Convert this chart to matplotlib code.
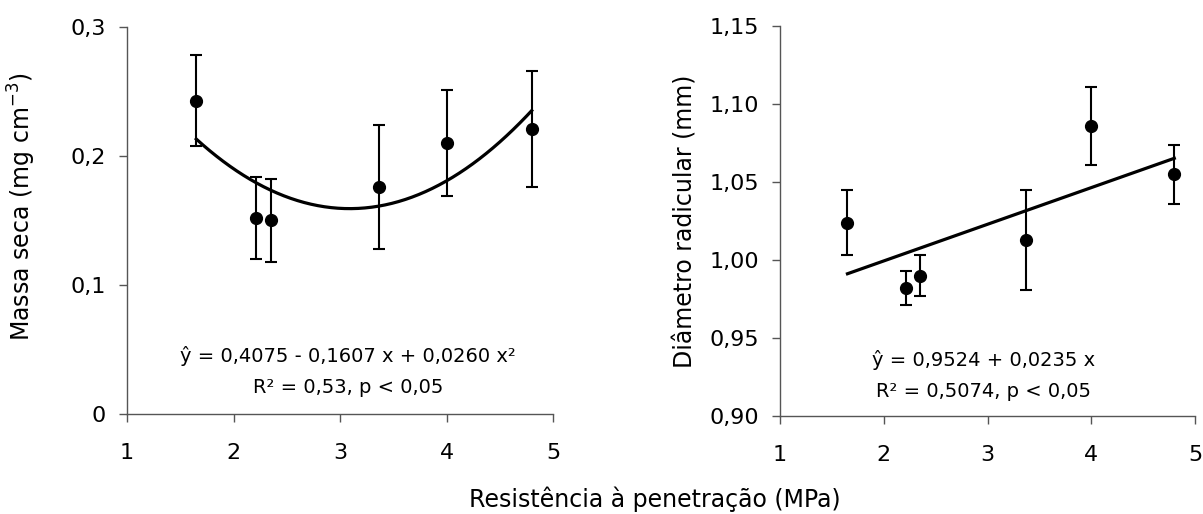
import numpy as np
import matplotlib.pyplot as plt
from matplotlib.ticker import FuncFormatter

plt.rcParams["font.family"] = ["DejaVu Sans"]
plt.rcParams["mathtext.fontset"] = "dejavusans"

# resistência à penetração (MPa)
rp = [1.65, 2.21, 2.35, 3.37, 4.00, 4.80]

# massa seca (mg cm-3) e desvio
massa = [0.243, 0.152, 0.150, 0.176, 0.210, 0.221]
massa_err = [0.035, 0.032, 0.032, 0.048, 0.041, 0.045]
massa_coef = [0.4075, -0.1607, 0.0260]

# diâmetro radicular (mm) e desvio
diam = [1.024, 0.982, 0.990, 1.013, 1.086, 1.055]
diam_err = [0.021, 0.011, 0.013, 0.032, 0.025, 0.019]
diam_coef = [0.9524, 0.0235]

AXIS_GRAY = "#555555"


def estilo(ax):
    ax.spines["top"].set_visible(False)
    ax.spines["right"].set_visible(False)
    for s in ("left", "bottom"):
        ax.spines[s].set_color(AXIS_GRAY)
        ax.spines[s].set_linewidth(1)
    ax.tick_params(direction="out", length=6, width=1, color=AXIS_GRAY,
                   labelsize=16)
    ax.tick_params(axis="x", pad=15)
    ax.tick_params(axis="y", pad=9)
    ax.set_xlim(1, 5)
    ax.set_xticks([1, 2, 3, 4, 5])


fig = plt.figure(figsize=(12.03, 5.14), dpi=100)
ax1 = fig.add_axes([0.1056, 0.1946, 0.3541, 0.7529])
ax2 = fig.add_axes([0.6484, 0.1907, 0.3450, 0.7587])

xs = np.linspace(min(rp), max(rp), 200)

# massa seca
estilo(ax1)
ax1.errorbar(rp, massa, yerr=massa_err, fmt="o", color="black", ms=8.5,
             capsize=4.5, elinewidth=1.5, capthick=1.5)
ax1.plot(xs, massa_coef[0] + massa_coef[1] * xs + massa_coef[2] * xs ** 2,
         color="black", lw=2.3)
ax1.set_ylim(0, 0.3)
ax1.set_yticks([0, 0.1, 0.2, 0.3])
ax1.yaxis.set_major_formatter(FuncFormatter(
    lambda v, pos: "0" if v == 0 else f"{v:.1f}".replace(".", ",")))
ax1.set_ylabel("Massa seca (mg cm$^{-3}$)", fontsize=17)
ax1.yaxis.set_label_coords(-0.209, 0.535)
ax1.text(3.075, 0.0405, "ŷ = 0,4075 - 0,1607 x + 0,0260 x²",
         ha="center", va="baseline", fontsize=14)
ax1.text(3.075, 0.0165, "R² = 0,53, p < 0,05",
         ha="center", va="baseline", fontsize=14)

# diâmetro radicular
estilo(ax2)
ax2.errorbar(rp, diam, yerr=diam_err, fmt="o", color="black", ms=8.5,
             capsize=4.5, elinewidth=1.5, capthick=1.5)
ax2.plot(xs, diam_coef[0] + diam_coef[1] * xs, color="black", lw=2.3)
ax2.set_ylim(0.90, 1.15)
ax2.set_yticks([0.90, 0.95, 1.00, 1.05, 1.10, 1.15])
ax2.yaxis.set_major_formatter(FuncFormatter(
    lambda v, pos: f"{v:.2f}".replace(".", ",")))
ax2.set_ylabel("Diâmetro radicular (mm)", fontsize=17)
ax2.yaxis.set_label_coords(-0.20, 0.5)
ax2.text(2.96, 0.9322, "ŷ = 0,9524 + 0,0235 x",
         ha="center", va="baseline", fontsize=14)
ax2.text(2.96, 0.9124, "R² = 0,5074, p < 0,05",
         ha="center", va="baseline", fontsize=14)

fig.text(0.544, 0.0142, "Resistência à penetração (MPa)", ha="center",
         va="baseline", fontsize=17)

fig.savefig("out.png", dpi=100)
